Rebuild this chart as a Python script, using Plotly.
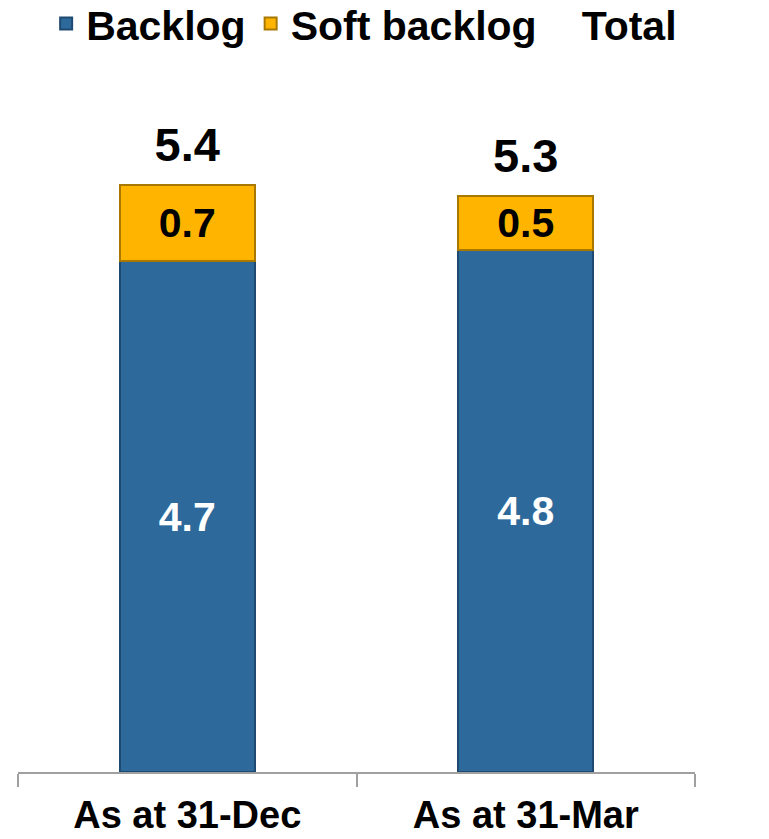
import plotly.graph_objects as go

categories = ["As at 31-Dec", "As at 31-Mar"]
backlog = [4.7, 4.8]
soft_backlog = [0.7, 0.5]
totals = [5.4, 5.3]
series_names = ["Backlog", "Soft backlog", "Total"]

FONT = "Liberation Sans, Arial, sans-serif"
BLUE = "#2D699B"
BLUE_EDGE = "#1E4A72"
GOLD = "#FFB400"
GOLD_EDGE = "#A87800"

fig = go.Figure()
fig.add_trace(go.Bar(
    x=categories, y=backlog, name=series_names[0],
    marker=dict(color=BLUE, line=dict(color=BLUE_EDGE, width=2)),
    text=[f"{v:.1f}" for v in backlog], textposition="inside",
    insidetextanchor="middle",
    textfont=dict(family=FONT, size=41, color="white", weight="bold"),
))
fig.add_trace(go.Bar(
    x=categories, y=soft_backlog, name=series_names[1],
    marker=dict(color=GOLD, line=dict(color=GOLD_EDGE, width=2)),
    text=[f"{v:.1f}" for v in soft_backlog], textposition="inside",
    insidetextanchor="middle",
    textfont=dict(family=FONT, size=41, color="black", weight="bold"),
))
fig.add_trace(go.Scatter(
    x=categories, y=totals, name=series_names[2], mode="markers+text",
    marker=dict(color="rgba(0,0,0,0)", size=18),
    text=[f"{v:.1f}" for v in totals], textposition="top center",
    textfont=dict(family=FONT, size=47, color="black", weight="bold"),
    cliponaxis=False,
))

fig.update_layout(
    width=769, height=839,
    barmode="stack", bargap=0.6,
    plot_bgcolor="white", paper_bgcolor="white",
    margin=dict(l=18, r=74, t=90, b=67, autoexpand=False),
    font=dict(family=FONT, size=40, color="black", weight="bold"),
    legend=dict(
        orientation="h", xref="container", yref="paper",
        x=0.06, y=1.146, xanchor="left", yanchor="top",
        font=dict(family=FONT, size=41, color="black", weight="bold"),
        traceorder="normal",
    ),
    xaxis=dict(
        range=[-0.5, 1.5], showline=True, linecolor="#A0A0A0", linewidth=2,
        ticks="outside", tickson="boundaries", ticklen=13, tickcolor="#A0A0A0",
        tickwidth=2, ticklabelstandoff=8, automargin=False,
        tickfont=dict(family=FONT, size=38, color="black", weight="bold"),
    ),
    yaxis=dict(range=[0, 6.274], visible=False),
)

fig.write_html("out.html")
